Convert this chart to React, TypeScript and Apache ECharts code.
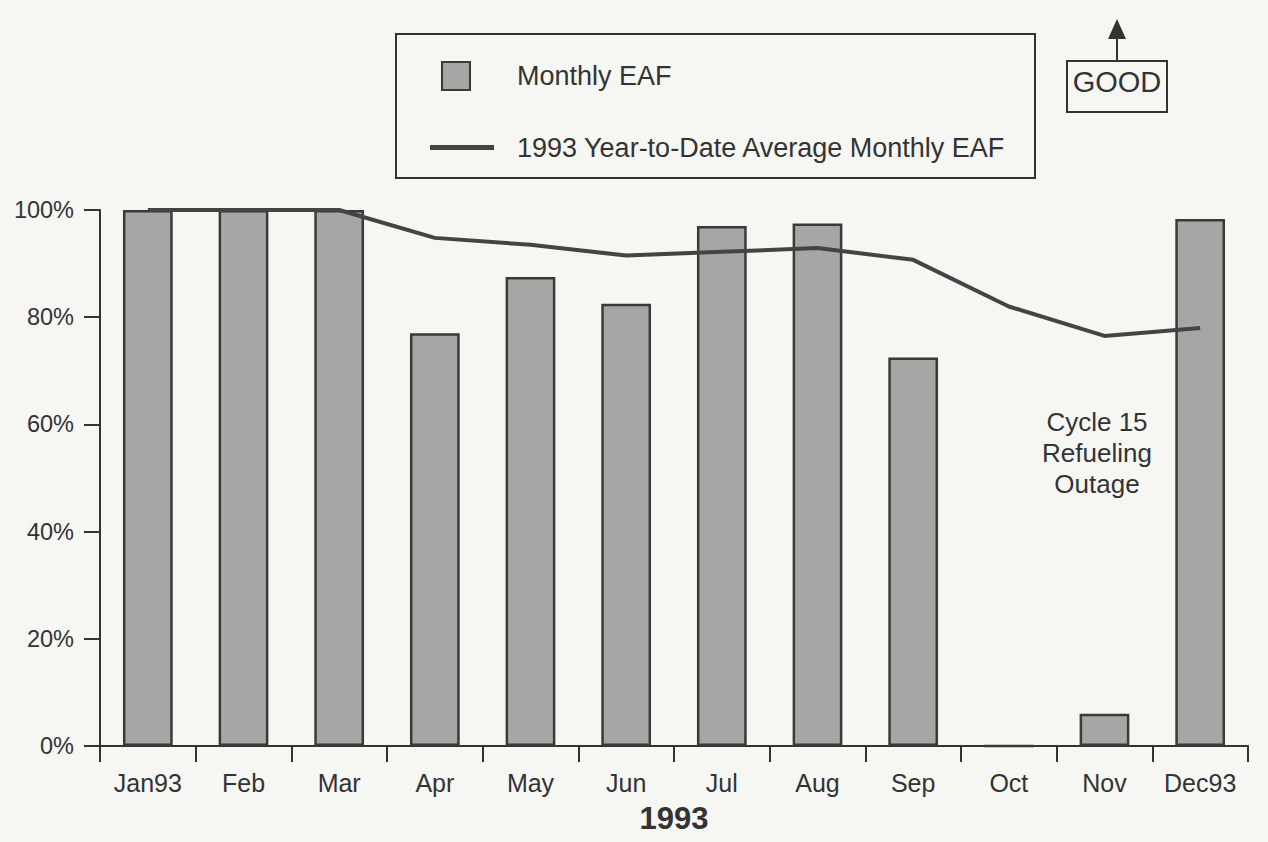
import React, { useEffect, useRef } from 'react';
import * as echarts from 'echarts';

const months = ['Jan93', 'Feb', 'Mar', 'Apr', 'May', 'Jun', 'Jul', 'Aug', 'Sep', 'Oct', 'Nov', 'Dec93'];
const monthlyEAF = [100, 100, 100, 77, 87.5, 82.5, 97, 97.5, 72.5, 0, 6, 98.3];
const ytdAverage = [100, 100, 100, 94.8, 93.5, 91.5, 92.2, 92.9, 90.7, 82, 76.5, 78];
const barName = 'Monthly EAF';
const lineName = '1993 Year-to-Date Average Monthly EAF';
const xAxisTitle = '1993';
const annotation = 'Cycle 15\nRefueling\nOutage';
const goodLabel = 'GOOD';

const FONT = '"Liberation Sans", Arial, Helvetica, sans-serif';
const INK = '#333333';

export default function App() {
  const ref = useRef<HTMLDivElement>(null);
  useEffect(() => {
    if (!ref.current) return;
    const chart = echarts.init(ref.current, undefined, { renderer: 'svg' });
    chart.setOption({
      animation: false,
      backgroundColor: '#f6f6f3',
      textStyle: { fontFamily: FONT, color: INK },
      grid: { left: 100, right: 20, top: 210, bottom: 96, containLabel: false },
      legend: {
        orient: 'vertical',
        left: 424,
        top: 56,
        itemWidth: 64,
        itemHeight: 28,
        itemGap: 43,
        textStyle: { fontSize: 27, color: INK, fontFamily: FONT, padding: [0, 0, 0, 18] },
        data: [
          { name: barName, icon: 'path://M12 0h28v28H12zM0 0M64 28' },
          { name: lineName, icon: 'path://M0 0h64v5H0z', itemStyle: { color: '#444444', borderWidth: 0 } },
        ],
      },
      xAxis: {
        type: 'category',
        data: months,
        boundaryGap: true,
        axisLine: { lineStyle: { color: INK, width: 2 } },
        axisTick: { show: true, interval: 0, length: 16, lineStyle: { color: INK, width: 2 } },
        axisLabel: { interval: 0, fontSize: 25, color: INK, margin: 24, fontFamily: FONT },
        name: xAxisTitle,
        nameLocation: 'middle',
        nameGap: 57,
        nameTextStyle: { fontSize: 31, fontWeight: 'bold', color: INK, fontFamily: FONT },
      },
      yAxis: {
        type: 'value',
        min: 0,
        max: 100,
        interval: 20,
        splitLine: { show: false },
        axisLine: { show: true, lineStyle: { color: INK, width: 2 } },
        axisTick: { show: true, length: 16, lineStyle: { color: INK, width: 2 } },
        axisLabel: { formatter: '{value}%', fontSize: 23.5, color: INK, margin: 26, fontFamily: FONT },
      },
      series: [
        {
          name: barName,
          type: 'bar',
          data: monthlyEAF,
          barWidth: '52%',
          itemStyle: { color: '#a6a6a4', borderColor: '#3a3a3a', borderWidth: 2.5 },
          z: 2,
        },
        {
          name: lineName,
          type: 'line',
          data: ytdAverage,
          symbol: 'none',
          lineStyle: { color: '#444444', width: 4 },
          itemStyle: { color: '#444444' },
          z: 3,
        },
      ],
      graphic: [
        {
          type: 'rect',
          shape: { x: 396, y: 34, width: 639, height: 144 },
          style: { fill: 'none', stroke: INK, lineWidth: 2 },
          silent: true,
        },
        {
          type: 'rect',
          shape: { x: 1067, y: 61, width: 100, height: 51 },
          style: { fill: 'none', stroke: INK, lineWidth: 2 },
        },
        {
          type: 'text',
          x: 1117,
          y: 82,
          style: { text: goodLabel, fontSize: 29, fill: INK, fontFamily: FONT, align: 'center', verticalAlign: 'middle' },
        },
        {
          type: 'line',
          shape: { x1: 1117, y1: 61, x2: 1117, y2: 34 },
          style: { stroke: INK, lineWidth: 2 },
        },
        {
          type: 'polygon',
          shape: { points: [[1108, 39], [1126, 39], [1117, 19]] },
          style: { fill: INK },
        },
        {
          type: 'text',
          x: 1097,
          y: 453,
          style: {
            text: annotation,
            fontSize: 26,
            lineHeight: 31,
            fill: INK,
            fontFamily: FONT,
            align: 'center',
            verticalAlign: 'middle',
          },
        },
      ],
    });
    return () => chart.dispose();
  }, []);
  return <div ref={ref} style={{ position: 'fixed', left: 0, top: 0, width: 1268, height: 842 }} />;
}
